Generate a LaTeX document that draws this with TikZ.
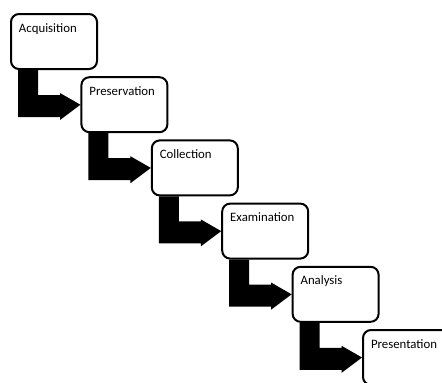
\documentclass[tikz,border=0pt]{standalone}
\usepackage{fontspec}
\setmainfont{Carlito}
\usetikzlibrary{calc}
\tikzset{
  stagebox/.style={draw=black, line width=2pt, rounded corners=8pt, fill=white,
    anchor=north west, inner xsep=8pt, inner ysep=4pt, text width=70pt, align=left,
    text height=14pt, text depth=33pt, font=\fontsize{12.8pt}{14pt}\selectfont},
  bigarrow/.style={fill=black, draw=none}
}
\newcommand{\stairarrow}[2]{%
  \fill[bigarrow] ($(#1.south west)+(8,0)$) -- ($(#1.south west)+(28,0)$)
    -- ($(#1.south west)+(28,25)$) -- ($(#1.south west)+(50,25)$)
    -- ($(#1.south west)+(50,23)$) -- (#2.west)
    -- ($(#1.south west)+(50,50)$) -- ($(#1.south west)+(50,47)$)
    -- ($(#1.south west)+(8,47)$) -- cycle;}
\begin{document}
\begin{tikzpicture}[x=1pt, y=-1pt]
\path[use as bounding box] (0,0) rectangle (442,383);
\clip (0,0) rectangle (442,383);
\node[stagebox] (acq) at (10,13) {Acquisition};
\node[stagebox] (pre) at (80.4,76.2) {Preservation};
\node[stagebox] (col) at (150.8,139.4) {Collection};
\node[stagebox] (exa) at (221.2,202.6) {Examination};
\node[stagebox] (ana) at (291.6,265.8) {Analysis};
\node[stagebox] (prs) at (362,329) {Presentation};
\stairarrow{acq}{pre}
\stairarrow{pre}{col}
\stairarrow{col}{exa}
\stairarrow{exa}{ana}
\stairarrow{ana}{prs}
\end{tikzpicture}
\end{document}
